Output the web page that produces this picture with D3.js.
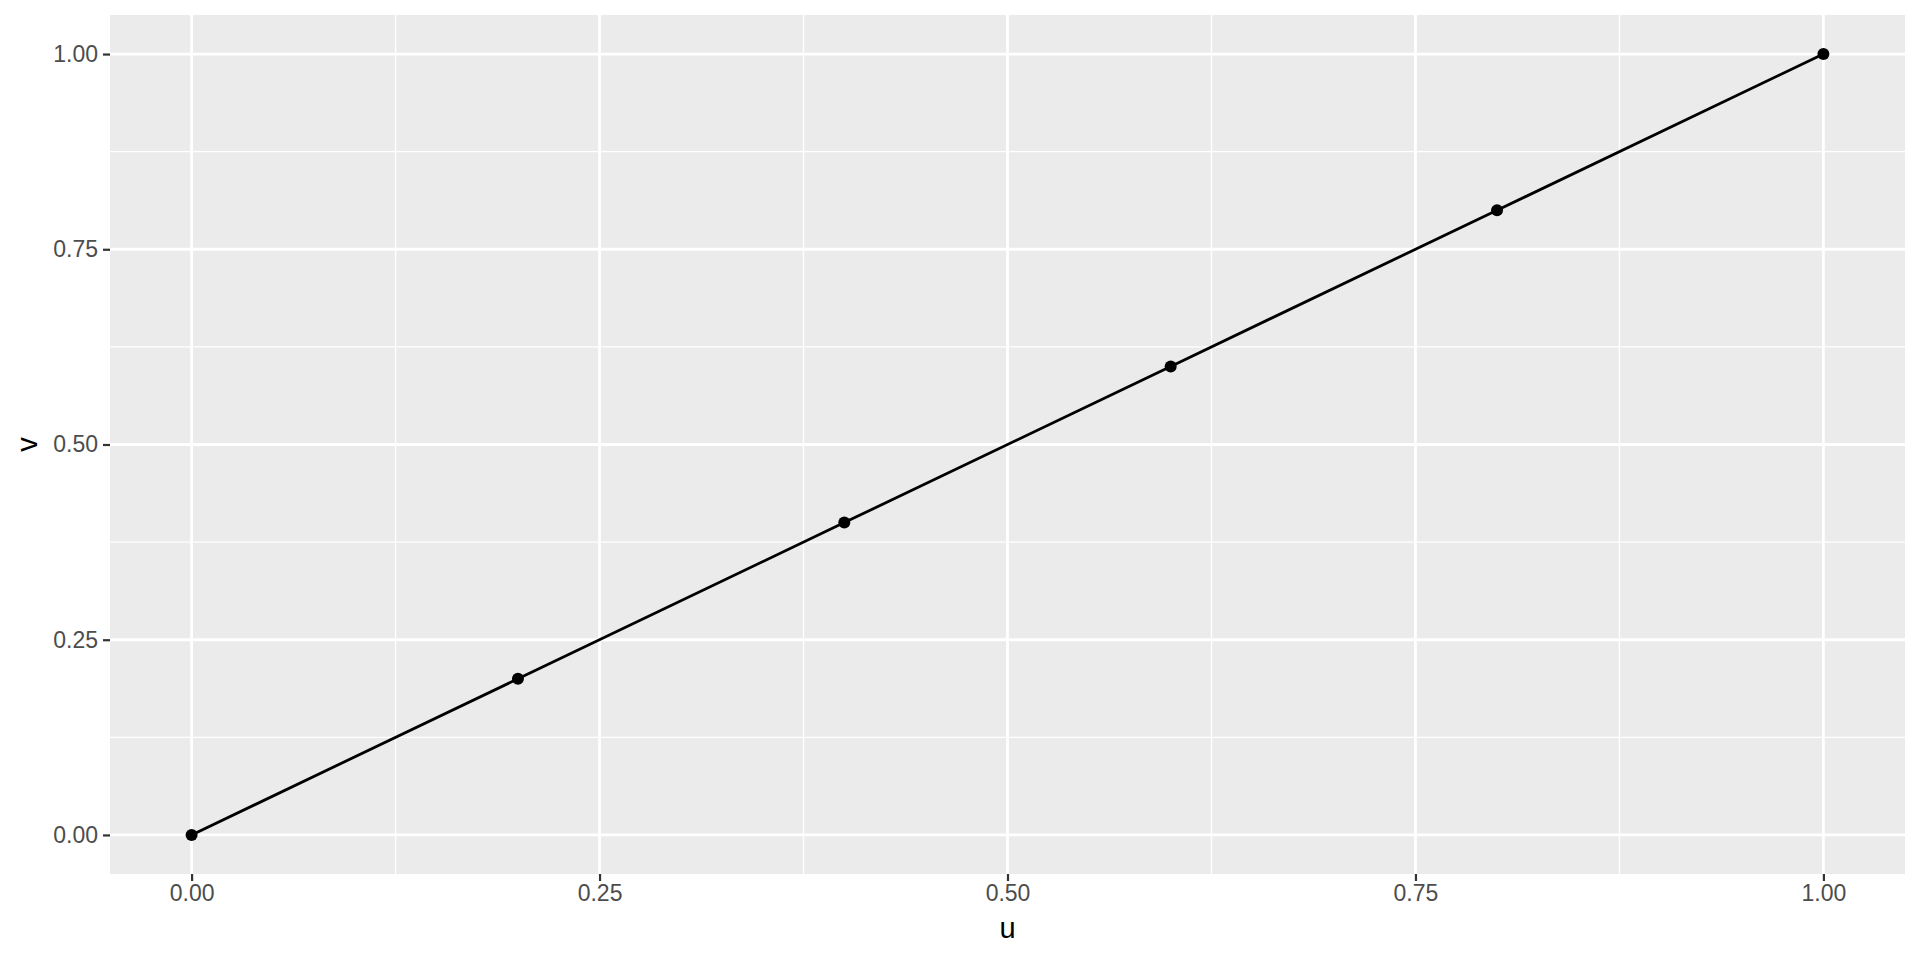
<!DOCTYPE html>
<html>
<head>
<meta charset="utf-8">
<script src="https://cdn.jsdelivr.net/npm/d3@7"></script>
<style>
  body { margin: 0; background: #fff; }
  text { font-family: "Liberation Sans", Arial, sans-serif; }
</style>
</head>
<body>
<div class="chart"></div>
<script>
// Data
var uValues = [0, 0.2, 0.4, 0.6, 0.8, 1.0];
var vValues = [0, 0.2, 0.4, 0.6, 0.8, 1.0];
var majorTicks = [0, 0.25, 0.5, 0.75, 1.0];
var minorTicks = [0.125, 0.375, 0.625, 0.875];

var svgWidth = 1920;
var svgHeight = 960;

// panel box
var margin = { top: 15, right: 15, bottom: 86, left: 110 };
var width = svgWidth - margin.left - margin.right;
var height = svgHeight - margin.top - margin.bottom;

var svg = d3.select(".chart")
  .append("svg")
  .attr("width", svgWidth)
  .attr("height", svgHeight);

var chartGroup = svg.append("g")
  .attr("transform", `translate(${margin.left}, ${margin.top})`);

// ggplot style expansion of 5% on each side
var xScale = d3.scaleLinear()
  .domain([-0.05, 1.05])
  .range([0, width]);

var yScale = d3.scaleLinear()
  .domain([-0.05, 1.05])
  .range([height, 0]);

// panel background
chartGroup.append("rect")
  .attr("width", width)
  .attr("height", height)
  .attr("fill", "#EBEBEB");

// minor grid
chartGroup.selectAll(".minor-x")
  .data(minorTicks)
  .enter()
  .append("line")
  .attr("x1", d => xScale(d)).attr("x2", d => xScale(d))
  .attr("y1", 0).attr("y2", height)
  .attr("stroke", "#fff").attr("stroke-width", 1.4);

chartGroup.selectAll(".minor-y")
  .data(minorTicks)
  .enter()
  .append("line")
  .attr("y1", d => yScale(d)).attr("y2", d => yScale(d))
  .attr("x1", 0).attr("x2", width)
  .attr("stroke", "#fff").attr("stroke-width", 1.4);

// major grid
chartGroup.selectAll(".major-x")
  .data(majorTicks)
  .enter()
  .append("line")
  .attr("x1", d => xScale(d)).attr("x2", d => xScale(d))
  .attr("y1", 0).attr("y2", height)
  .attr("stroke", "#fff").attr("stroke-width", 2.8);

chartGroup.selectAll(".major-y")
  .data(majorTicks)
  .enter()
  .append("line")
  .attr("y1", d => yScale(d)).attr("y2", d => yScale(d))
  .attr("x1", 0).attr("x2", width)
  .attr("stroke", "#fff").attr("stroke-width", 2.8);

// axes
var bottomAxis = d3.axisBottom(xScale)
  .tickValues(majorTicks)
  .tickFormat(d3.format(".2f"))
  .tickSize(7)
  .tickPadding(4);

var leftAxis = d3.axisLeft(yScale)
  .tickValues(majorTicks)
  .tickFormat(d3.format(".2f"))
  .tickSize(7)
  .tickPadding(5);

var xAxisG = chartGroup.append("g")
  .attr("transform", `translate(0, ${height})`)
  .call(bottomAxis);

var yAxisG = chartGroup.append("g")
  .call(leftAxis);

[xAxisG, yAxisG].forEach(function(g) {
  g.select(".domain").remove();
  g.selectAll(".tick line").attr("stroke", "#333333").attr("stroke-width", 2.2);
  g.selectAll(".tick text")
    .attr("fill", "#4D4D4D")
    .style("font-size", "23px")
    .style("font-family", "'Liberation Sans', Arial, sans-serif");
});

// line + points
var line = d3.line()
  .x((d, i) => xScale(uValues[i]))
  .y(d => yScale(d));

chartGroup.append("path")
  .datum(vValues)
  .attr("d", line)
  .attr("fill", "none")
  .attr("stroke", "#000")
  .attr("stroke-width", 2.8);

chartGroup.selectAll(".pt")
  .data(vValues)
  .enter()
  .append("circle")
  .attr("cx", (d, i) => xScale(uValues[i]))
  .attr("cy", d => yScale(d))
  .attr("r", 6)
  .attr("fill", "#000");

// axis titles
svg.append("text")
  .attr("x", margin.left + width / 2)
  .attr("y", 938)
  .attr("text-anchor", "middle")
  .style("font-size", "29px")
  .attr("fill", "#000")
  .text("u");

svg.append("text")
  .attr("transform", `translate(37, ${margin.top + height / 2}) rotate(-90)`)
  .attr("text-anchor", "middle")
  .style("font-size", "29px")
  .attr("fill", "#000")
  .text("v");
</script>
</body>
</html>
